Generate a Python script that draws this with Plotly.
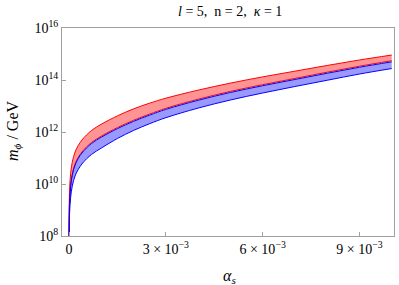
import plotly.graph_objects as go

alpha = [1e-6, 1e-5, 2e-5, 5e-5, 1e-4, 2e-4, 4e-4, 7e-4, 1e-3, 1.5e-3, 2e-3, 2.5e-3, 3e-3, 4e-3, 5e-3, 6e-3, 7e-3, 8e-3, 9e-3, 1e-2]
# log10(m_phi / GeV)
red_top_log = [8.0, 9.45, 9.85, 10.4, 10.83, 11.27, 11.69, 12.06, 12.3, 12.62, 12.89, 13.11, 13.3, 13.61, 13.88, 14.12, 14.34, 14.56, 14.77, 14.96]
mid_log = [7.5, 8.95, 9.35, 9.9, 10.33, 10.77, 11.19, 11.56, 11.8, 12.13, 12.41, 12.65, 12.87, 13.22, 13.52, 13.78, 14.02, 14.26, 14.49, 14.70]
blue_bot_log = [7.1, 8.53, 8.93, 9.48, 9.91, 10.35, 10.77, 11.14, 11.38, 11.75, 12.06, 12.32, 12.55, 12.92, 13.23, 13.50, 13.75, 13.99, 14.23, 14.44]
red_low_log = [v + 0.04 for v in mid_log]

x_ticks = [0, 0.003, 0.006, 0.009]
x_ticktext = ["0", "3 × 10<sup>−3</sup>", "6 × 10<sup>−3</sup>", "9 × 10<sup>−3</sup>"]
y_ticks = [1e8, 1e10, 1e12, 1e14, 1e16]
y_ticktext = ["10<sup>8</sup>", "10<sup>10</sup>", "10<sup>12</sup>", "10<sup>14</sup>", "10<sup>16</sup>"]

def pw(lst):
    return [10 ** v for v in lst]

RED = "rgb(255,0,0)"
BLUE = "rgb(0,0,255)"
FONT = "Liberation Serif, Times New Roman, serif"
shape = dict(shape="spline", smoothing=1.0)

fig = go.Figure()
fig.add_trace(go.Scatter(x=alpha, y=pw(red_low_log), mode="lines",
                         line=dict(color=RED, width=1, **shape), showlegend=False))
fig.add_trace(go.Scatter(x=alpha, y=pw(red_top_log), mode="lines", fill="tonexty",
                         fillcolor="rgba(255,0,0,0.42)",
                         line=dict(color=RED, width=1, **shape), showlegend=False))
fig.add_trace(go.Scatter(x=alpha, y=pw(blue_bot_log), mode="lines",
                         line=dict(color=BLUE, width=1, **shape), showlegend=False))
fig.add_trace(go.Scatter(x=alpha, y=pw(mid_log), mode="lines", fill="tonexty",
                         fillcolor="rgba(0,0,255,0.4)",
                         line=dict(color=BLUE, width=1, **shape), showlegend=False))

axis_common = dict(showgrid=False, zeroline=False, showline=True, linecolor="#a0a0a0",
                   linewidth=1, mirror=True, ticks="inside", ticklen=4,
                   tickcolor="#a0a0a0", automargin=False,
                   tickfont=dict(family=FONT, size=14, color="black"))

fig.update_xaxes(range=[-0.000217, 0.01007], tickvals=x_ticks, ticktext=x_ticktext, **axis_common)
fig.update_yaxes(type="log", range=[8, 16], tickvals=y_ticks, ticktext=y_ticktext, **axis_common)

fig.update_layout(
    width=399, height=285,
    margin=dict(l=62, r=5, t=28, b=49),
    paper_bgcolor="white", plot_bgcolor="white",
    annotations=[
        dict(text="<i>l</i> = 5,  n = 2,  <i>κ</i> = 1", xref="paper", yref="paper",
             x=0.506, y=1.077, xanchor="center", yanchor="middle", showarrow=False,
             font=dict(family=FONT, size=14, color="black")),
        dict(text="<i>α<sub>s</sub></i>", xref="paper", yref="paper",
             x=0.506, y=-0.197, xanchor="center", yanchor="middle", showarrow=False,
             font=dict(family=FONT, size=16, color="black")),
        dict(text="<i>m<sub>ϕ</sub></i> / GeV", xref="paper", yref="paper",
             x=-0.1446, y=0.505, xanchor="center", yanchor="middle", showarrow=False,
             textangle=-90, font=dict(family=FONT, size=16, color="black")),
    ],
)

fig.write_html("out.html", config={"displayModeBar": False},
               post_script="document.body.style.margin='0px';document.body.style.padding='0px';document.body.style.overflow='hidden';")
